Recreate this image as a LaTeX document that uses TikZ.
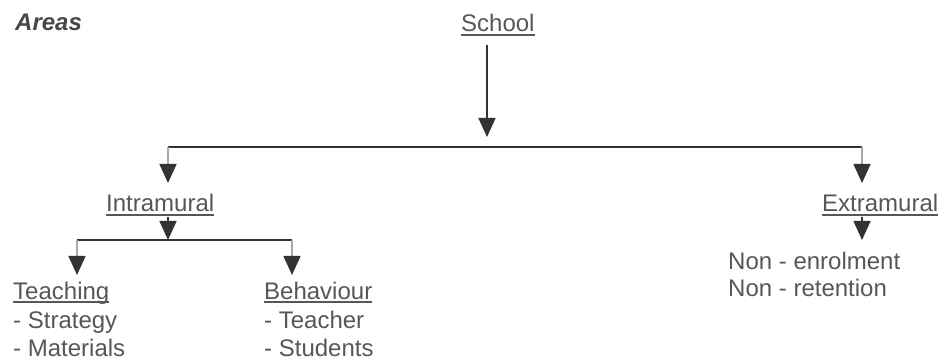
\documentclass[tikz,border=0pt]{standalone}
\usepackage{fontspec}
\setmainfont{Liberation Sans}
\usetikzlibrary{arrows.meta}
\definecolor{txt}{HTML}{575757}
\definecolor{ttl}{HTML}{474747}
\definecolor{ln}{HTML}{333333}
\definecolor{stubc}{HTML}{A8A8A8}
\newcommand\ulnode[1]{\draw[ul] ([yshift=-3pt]#1.base west) -- ([yshift=-3pt]#1.base east);}
\begin{document}
\begin{tikzpicture}[x=1pt,y=-1pt,
  lbl/.style={anchor=base west,inner sep=0pt,text=txt,font=\fontsize{24}{28}\selectfont},
  ul/.style={draw=txt,line width=1.3pt},
  wire/.style={draw=ln,line width=1.5pt},
  arr/.style={draw=ln,line width=1.5pt,-{Triangle[width=17pt,length=19pt,color=ln]}},
  arrs/.style={draw=stubc,line width=1.5pt,-{Triangle[width=17pt,length=19pt,color=ln]}},
]
\useasboundingbox (0,0) rectangle (942,363);
\fill[white] (0,0) rectangle (942,363);

% texts
\node[lbl,text=ttl,font=\fontsize{24}{28}\selectfont\bfseries\itshape] (areas) at (15,31) {Areas};
\node[lbl] (school) at (461,32) {School};
\node[lbl] (intra) at (106,212) {Intramural};
\node[lbl] (extra) at (822,212) {Extramural};
\node[lbl] (teach) at (13,299) {Teaching};
\node[lbl] (strat) at (13,328) {- Strategy};
\node[lbl] (mater) at (13,356) {- Materials};
\node[lbl] (behav) at (264,299) {Behaviour};
\node[lbl] (teacher) at (264,328) {- Teacher};
\node[lbl] (students) at (264,356) {- Students};
\node[lbl] (nonenr) at (728,270) {Non - enrolment};
\node[lbl] (nonret) at (728,297) {Non - retention};

\ulnode{school}
\ulnode{intra}
\ulnode{extra}
\ulnode{teach}
\ulnode{behav}

% junction coordinates
\coordinate (s0) at (487,45);
\coordinate (s1) at (487,137);
\coordinate (bl) at (168,147);
\coordinate (br) at (862,147);
\coordinate (il) at (168,183);
\coordinate (er) at (862,183);
\coordinate (i0) at (168,217);
\coordinate (i1) at (168,240);
\coordinate (tl) at (77,240);
\coordinate (tr) at (292,240);
\coordinate (ta) at (77,275);
\coordinate (ba) at (292,275);
\coordinate (e0) at (862,217);
\coordinate (e1) at (862,240);

% connectors
\draw[arr] (s0) -- (s1);
\draw[wire] (bl) -- (br);
\draw[arrs] (bl) -- (il);
\draw[arrs] (br) -- (er);
\draw[arr] (i0) -- (i1);
\draw[wire] (tl) -- (tr);
\draw[arrs] (tl) -- (ta);
\draw[arrs] (tr) -- (ba);
\draw[arr] (e0) -- (e1);
\end{tikzpicture}
\end{document}
